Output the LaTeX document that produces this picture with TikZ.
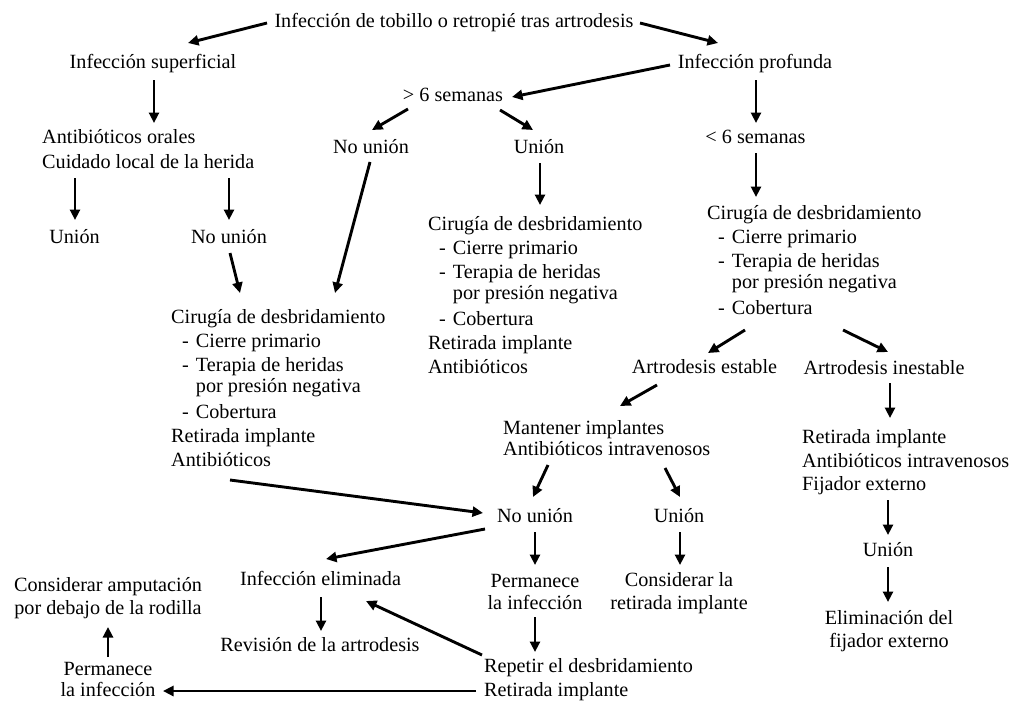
\documentclass[tikz,border=0pt]{standalone}
\usepackage{fontspec}
\setmainfont{Liberation Serif}
\usetikzlibrary{arrows.meta}
% indented list entries inside the treatment blocks
\newcommand\bul{\hspace*{11pt}-\hspace*{7pt}}
\newcommand\bulc{\hspace*{11pt}\phantom{-}\hspace*{7pt}}
\begin{document}
\begin{tikzpicture}[x=1pt,y=-1pt,
  txt/.style={inner sep=0pt, font=\fontsize{20.2}{24.3}\selectfont},
  blk/.style={txt, anchor=base west},
  arr/.style={line width=2.9pt, -{Triangle[length=10.5pt,width=10pt]}}]
\useasboundingbox (0,0) rectangle (1011,701);

% ---- nodes ----
\node[txt, anchor=base] (top) at (454,28) {Infección de tobillo o retropié tras artrodesis};
\node[txt, anchor=base] (infsup) at (153,69) {Infección superficial};
\node[txt, anchor=base] (infprof) at (755,69) {Infección profunda};
\node[txt, anchor=base] (gt6) at (453,101) {> 6 semanas};
\node[blk] (antior) at (42,143) {\begin{tabular}[t]{@{}l@{}}Antibióticos orales\\[0.7pt]Cuidado local de la herida\end{tabular}};
\node[txt, anchor=base] (nu1) at (371,153) {No unión};
\node[txt, anchor=base] (un1) at (539,153) {Unión};
\node[txt, anchor=base] (lt6) at (755.5,143) {< 6 semanas};
\node[txt, anchor=base] (un2) at (74.5,243) {Unión};
\node[txt, anchor=base] (nu2) at (229,243) {No unión};

\node[blk] (cirmid) at (428,230) {\begin{tabular}[t]{@{}l@{}}Cirugía de desbridamiento\\
  \bul Cierre primario\\ \bul Terapia de heridas\\[-3pt]\bulc por presión negativa\\[1pt]
  \bul Cobertura\\ Retirada implante\\ Antibióticos\end{tabular}};
\node[blk] (cirright) at (707,219) {\begin{tabular}[t]{@{}l@{}}Cirugía de desbridamiento\\
  \bul Cierre primario\\ \bul Terapia de heridas\\[-3pt]\bulc por presión negativa\\[1pt]
  \bul Cobertura\end{tabular}};
\node[blk] (cirleft) at (171,323) {\begin{tabular}[t]{@{}l@{}}Cirugía de desbridamiento\\
  \bul Cierre primario\\ \bul Terapia de heridas\\[-3pt]\bulc por presión negativa\\[1pt]
  \bul Cobertura\\ Retirada implante\\ Antibióticos\end{tabular}};

\node[txt, anchor=base] (artest) at (704.5,373) {Artrodesis estable};
\node[txt, anchor=base] (artinest) at (884,374) {Artrodesis inestable};
\node[blk] (mant) at (503,434) {\begin{tabular}[t]{@{}l@{}}Mantener implantes\\[-2.5pt]Antibióticos intravenosos\end{tabular}};
\node[blk] (retright) at (802,443) {\begin{tabular}[t]{@{}l@{}}Retirada implante\\Antibióticos intravenosos\\[-1.5pt]Fijador externo\end{tabular}};

\node[txt, anchor=base] (nu3) at (535,522) {No unión};
\node[txt, anchor=base] (un3) at (679,522) {Unión};
\node[txt, anchor=base] (un4) at (888,556) {Unión};
\node[txt, anchor=base] (infelim) at (320.5,585) {Infección eliminada};
\node[txt, anchor=base] (perm1) at (535,587) {\begin{tabular}[t]{@{}c@{}}Permanece\\[-2.3pt]la infección\end{tabular}};
\node[txt, anchor=base] (consid) at (679,586) {\begin{tabular}[t]{@{}c@{}}Considerar la\\[-1.3pt]retirada implante\end{tabular}};
\node[txt, anchor=base] (amput) at (108,591) {\begin{tabular}[t]{@{}c@{}}Considerar amputación\\[-1.3pt]por debajo de la rodilla\end{tabular}};
\node[txt, anchor=base] (revision) at (320,651) {Revisión de la artrodesis};
\node[txt, anchor=base] (elimfij) at (889,624) {\begin{tabular}[t]{@{}c@{}}Eliminación del\\[-1.3pt]fijador externo\end{tabular}};
\node[txt, anchor=base] (perm2) at (108,675) {\begin{tabular}[t]{@{}c@{}}Permanece\\[-3.3pt]la infección\end{tabular}};
\node[blk] (repetir) at (484,672) {\begin{tabular}[t]{@{}l@{}}Repetir el desbridamiento\\Retirada implante\end{tabular}};

% ---- connectors ----
\draw[arr] ([shift={(-187,-5)}]top.base) -- ([shift={(35,-26)}]infsup.base);
\draw[arr] ([shift={(186,-5)}]top.base) -- ([shift={(-37,-26)}]infprof.base);
\draw[arr] ([shift={(1,11)}]infsup.base) -- ([shift={(112,-20)}]antior.base west);
\draw[arr] ([shift={(-85,-4)}]infprof.base) -- ([shift={(59,-4)}]gt6.base);
\draw[arr] ([shift={(1,11)}]infprof.base) -- ([shift={(0.5,-20)}]lt6.base);
\draw[arr] ([shift={(-45,8)}]gt6.base) -- ([shift={(1,-23)}]nu1.base);
\draw[arr] ([shift={(47,9)}]gt6.base) -- ([shift={(-6,-23)}]un1.base);
\draw[arr] ([shift={(33,35)}]antior.base west) -- ([shift={(0.5,-23)}]un2.base);
\draw[arr] ([shift={(187,35)}]antior.base west) -- ([shift={(0,-23)}]nu2.base);
\draw[arr] ([shift={(1,10)}]un1.base) -- ([shift={(112,-25)}]cirmid.base west);
\draw[arr] ([shift={(0.5,10)}]lt6.base) -- ([shift={(49,-22)}]cirright.base west);
\draw[arr] ([shift={(1,10)}]nu2.base) -- ([shift={(69,-30)}]cirleft.base west);
\draw[arr] ([shift={(-1,9)}]nu1.base) -- ([shift={(164,-30)}]cirleft.base west);
\draw[arr] ([shift={(38,111)}]cirright.base west) -- ([shift={(3.5,-20)}]artest.base);
\draw[arr] ([shift={(136,111)}]cirright.base west) -- ([shift={(4,-22)}]artinest.base);
\draw[arr] ([shift={(-47.5,12)}]artest.base) -- ([shift={(117,-28)}]mant.base west);
\draw[arr] ([shift={(6,9)}]artinest.base) -- ([shift={(88,-25)}]retright.base west);
\draw[arr] ([shift={(59,157)}]cirleft.base west) -- ([shift={(-52,-9)}]nu3.base);
\draw[arr] ([shift={(45,31)}]mant.base west) -- ([shift={(-2,-25)}]nu3.base);
\draw[arr] ([shift={(162,34)}]mant.base west) -- ([shift={(1,-25)}]un3.base);
\draw[arr] ([shift={(86,57)}]retright.base west) -- ([shift={(0,-21)}]un4.base);
\draw[arr] ([shift={(0,11)}]un4.base) -- ([shift={(-1,-22)}]elimfij.base);
\draw[arr] ([shift={(-50,7)}]nu3.base) -- ([shift={(5.5,-26)}]infelim.base);
\draw[arr] ([shift={(0,10)}]nu3.base) -- ([shift={(0,-22)}]perm1.base);
\draw[arr] ([shift={(1,10)}]un3.base) -- ([shift={(1,-21)}]consid.base);
\draw[arr] ([shift={(0,30)}]perm1.base) -- ([shift={(51,-20)}]repetir.base west);
\draw[arr] ([shift={(0.5,12)}]infelim.base) -- ([shift={(1,-20)}]revision.base);
\draw[arr] ([shift={(-2,-17)}]repetir.base west) -- ([shift={(45.5,16)}]infelim.base);
\draw[arr] ([shift={(-8,19)}]repetir.base west) -- ([shift={(55,16)}]perm2.base);
\draw[arr] ([shift={(0,-18)}]perm2.base) -- ([shift={(0,36)}]amput.base);
\end{tikzpicture}
\end{document}
